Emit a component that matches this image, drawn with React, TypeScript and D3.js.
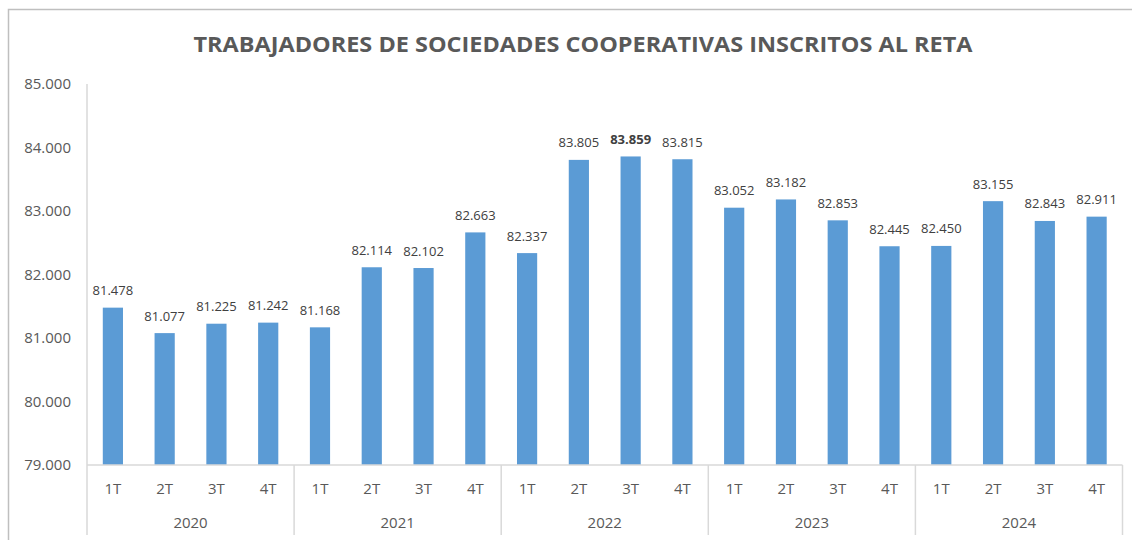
import React from "react";
import * as d3 from "d3";

const years = ["2020", "2021", "2022", "2023", "2024"];
const quarters = ["1T", "2T", "3T", "4T"];
const values = [
  81478, 81077, 81225, 81242,
  81168, 82114, 82102, 82663,
  82337, 83805, 83859, 83815,
  83052, 83182, 82853, 82445,
  82450, 83155, 82843, 82911,
];
const yTicks = [79000, 80000, 81000, 82000, 83000, 84000, 85000];
const boldIndex = 10;
const title = "TRABAJADORES DE SOCIEDADES COOPERATIVAS INSCRITOS AL RETA";

const fmt = (v: number) => d3.format(",")(v).replace(/,/g, ".");

export default function App() {
  const W = 1132, H = 540;
  const left = 87, right = 1122.5, top = 84, bottom = 465;
  const cats = years.flatMap((y) => quarters.map((q) => `${y}-${q}`));
  const x = d3.scaleBand().domain(cats).range([left, right]).paddingInner(0.61).paddingOuter(0.305);
  const xg = d3.scaleBand().domain(years).range([left, right]);
  const y = d3.scaleLinear().domain([79000, 85000]).range([bottom, top]);
  const font = "'Open Sans', sans-serif";
  const axisColor = "#d9d9d9";
  return (
    <svg width={W} height={H} style={{ position: "absolute", left: 0, top: 0, fontFamily: font }}>
      <rect x={0} y={0} width={W} height={H} fill="#fff" />
      <rect x={8.5} y={9.5} width={W + 10} height={H + 10} fill="none" stroke="#bfbfbf" strokeWidth={1.5} />
      <text x={583} y={52} textAnchor="middle" fontSize={20.5} fontWeight="bold" fill="#595959" textLength={779} lengthAdjust="spacingAndGlyphs">
        {title}
      </text>
      {/* y axis */}
      <line x1={left} x2={left} y1={top} y2={bottom} stroke={axisColor} strokeWidth={1.5} />
      {yTicks.map((t) => (
        <text key={t} x={71} y={y(t)} dy="0.35em" textAnchor="end" fontSize={15} fill="#595959">
          {fmt(t)}
        </text>
      ))}
      {/* bars */}
      {values.map((v, i) => (
        <rect key={cats[i]} x={x(cats[i])} y={y(v)} width={x.bandwidth()} height={bottom - y(v)} fill="#5B9BD5" />
      ))}
      {values.map((v, i) => (
        <text key={"l" + i} x={(x(cats[i]) as number) + x.bandwidth() / 2} y={y(v) - 12.5} textAnchor="middle" fontSize={13} fill="#404040" fontWeight={i === boldIndex ? "bold" : "normal"}>
          {fmt(v)}
        </text>
      ))}
      {/* x axis */}
      <line x1={left} x2={right} y1={bottom} y2={bottom} stroke={axisColor} strokeWidth={1.5} />
      {years.map((yr) => (
        <line key={"s" + yr} x1={xg(yr)} x2={xg(yr)} y1={bottom} y2={535} stroke={axisColor} strokeWidth={1.5} />
      ))}
      <line x1={right} x2={right} y1={bottom} y2={535} stroke={axisColor} strokeWidth={1.5} />
      {cats.map((c, i) => (
        <text key={"q" + c} x={(x(c) as number) + x.bandwidth() / 2} y={489} dy="0.35em" textAnchor="middle" fontSize={15} fill="#595959">
          {quarters[i % 4]}
        </text>
      ))}
      {years.map((yr) => (
        <text key={"y" + yr} x={(xg(yr) as number) + xg.bandwidth() / 2} y={523} dy="0.35em" textAnchor="middle" fontSize={15} fill="#595959">
          {yr}
        </text>
      ))}
    </svg>
  );
}
